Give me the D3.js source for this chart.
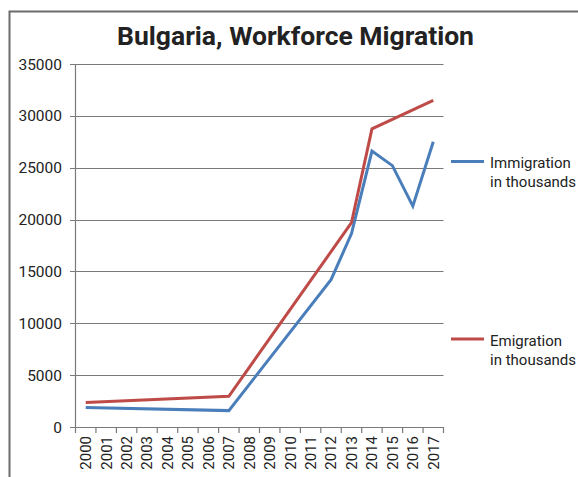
<!DOCTYPE html>
<html><head><meta charset="utf-8">
<script src="https://cdn.jsdelivr.net/npm/d3@7/dist/d3.min.js"></script>
<style>body{margin:0;background:#fff}svg{display:block}text{font-family:Roboto,"Liberation Sans",sans-serif;fill:#222}</style>
</head><body><svg id="c" width="578" height="477"></svg>
<script>
const years = ["2000","2001","2002","2003","2004","2005","2006","2007","2008","2009","2010","2011","2012","2013","2014","2015","2016","2017"];
const immigration = [1880,null,null,null,null,null,null,1580,null,null,null,null,14200,18650,26600,25200,21300,27500];
const emigration  = [2370,null,null,null,null,null,null,2960,null,null,null,null,null,19700,28750,null,null,31500];
const yTicks = [0,5000,10000,15000,20000,25000,30000,35000];
const seriesNames = [["Immigration","in thousands"],["Emigration","in thousands"]];
const colors = ["#4a7ebb","#be4b48"];

const svg = d3.select("#c");
// frame
svg.append("path").attr("d","M9.5,477 L9.5,11.5 L578,11.5").attr("fill","none").attr("stroke","#6b6b6b").attr("stroke-width",2);

svg.append("text").attr("x",295.5).attr("y",45).attr("text-anchor","middle")
  .style("font-size","26.5px").style("font-weight","bold").text("Bulgaria, Workforce Migration");

const x = d3.scaleBand().domain(years).range([75.5,443.5]);
const y = d3.scaleLinear().domain([0,35000]).range([427,64]);

// gridlines + y ticks
const g = svg.append("g");
g.selectAll("line.grid").data(yTicks).join("line")
  .attr("x1",70).attr("x2",443.5).attr("y1",d=>Math.round(y(d))+0.5).attr("y2",d=>Math.round(y(d))+0.5)
  .attr("stroke","#7a7a7a").attr("stroke-width",1.2);
g.selectAll("text.yl").data(yTicks).join("text")
  .attr("x",62).attr("y",d=>y(d)).attr("dy","0.36em").attr("text-anchor","end")
  .style("font-size","15.5px").text(d=>d);
// y axis line
g.append("line").attr("x1",75.5).attr("x2",75.5).attr("y1",64).attr("y2",427).attr("stroke","#7a7a7a").attr("stroke-width",1.2);
// x tick marks at band boundaries
const bounds = years.map(d=>x(d)).concat([x.range()[1]]);
g.selectAll("line.xt").data(bounds).join("line")
  .attr("x1",d=>d).attr("x2",d=>d).attr("y1",427).attr("y2",433)
  .attr("stroke","#7a7a7a").attr("stroke-width",1.2);
g.selectAll("text.xl").data(years).join("text")
  .attr("transform",d=>`translate(${x(d)+x.bandwidth()/2},436) rotate(-90)`)
  .attr("dy","0.36em").attr("text-anchor","end").style("font-size","15px").text(d=>d);

// lines
const line = d3.line().x(d=>x(d.year)+x.bandwidth()/2).y(d=>y(d.v));
[immigration, emigration].forEach((arr,i)=>{
  const pts = years.map((yr,j)=>({year:yr,v:arr[j]})).filter(d=>d.v!=null);
  svg.append("path").datum(pts).attr("d",line).attr("fill","none")
    .attr("stroke",colors[i]).attr("stroke-width",3).attr("stroke-linejoin","miter");
});

// legend
const legY = [161.5, 339];
seriesNames.forEach((nm,i)=>{
  svg.append("line").attr("x1",451).attr("x2",484).attr("y1",legY[i]).attr("y2",legY[i])
    .attr("stroke",colors[i]).attr("stroke-width",3);
  const t = svg.append("text").attr("x",490).attr("y",legY[i]+6.5).style("font-size","15px");
  t.append("tspan").attr("x",490).text(nm[0]);
  t.append("tspan").attr("x",490).attr("dy",19).text(nm[1]);
});
</script></body></html>
